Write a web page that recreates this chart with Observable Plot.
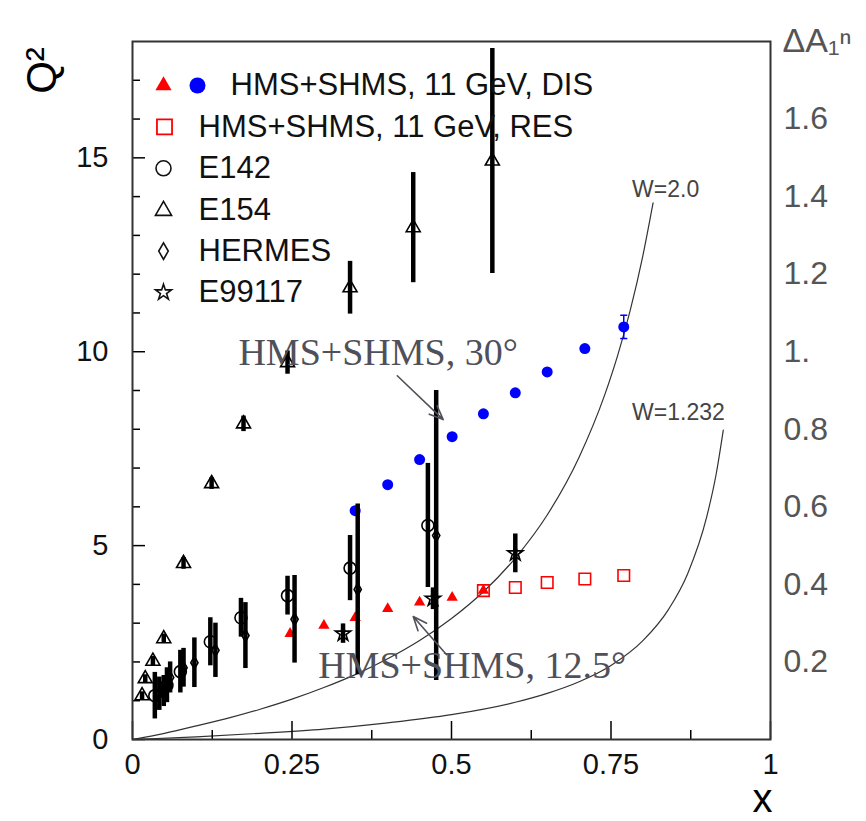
<!DOCTYPE html>
<html>
<head>
<meta charset="utf-8">
<script src="https://cdn.jsdelivr.net/npm/d3@7"></script>
<script src="https://cdn.jsdelivr.net/npm/@observablehq/plot@0.6"></script>
<style>
  html, body { margin: 0; padding: 0; background: #fff; }
</style>
</head>
<body>
<div id="chart"></div>
<script>
// ---- tick labels ----
const xTicks = [0, 0.25, 0.5, 0.75, 1];
const xTickLabels = ["0", "0.25", "0.5", "0.75", "1"];
const xMinorTicks = [0.125, 0.375, 0.625, 0.875];
const yTicks = [0, 5, 10, 15];
const yTickLabels = ["0", "5", "10", "15"];
const yMinorTicks = [1, 2, 3, 4, 6, 7, 8, 9, 11, 12, 13, 14, 16, 17];
const rightTicks = [0.2, 0.4, 0.6, 0.8, 1.0, 1.2, 1.4, 1.6];
const rightTickLabels = ["0.2", "0.4", "0.6", "0.8", "1.", "1.2", "1.4", "1.6"];

// ---- legend ----
const legendLabels = ["HMS+SHMS, 11 GeV, DIS", "HMS+SHMS, 11 GeV, RES", "E142", "E154", "HERMES", "E99117"];

// ---- HMS+SHMS 11 GeV, DIS (blue dots) ----
const disX = [0.349, 0.40, 0.45, 0.501, 0.55, 0.60, 0.65, 0.709, 0.77];
const disQ2 = [5.90, 6.57, 7.22, 7.81, 8.40, 8.94, 9.48, 10.08, 10.64];
const disErr = [0, 0, 0, 0, 0, 0, 0, 0, 0.30];

// ---- HMS+SHMS 11 GeV, DIS/RES (red) ----
const resTriX = [0.247, 0.30, 0.349, 0.40, 0.45, 0.501, 0.55];
const resTriQ2 = [2.73, 2.94, 3.14, 3.37, 3.54, 3.66, 3.84];
const resSqX = [0.55, 0.60, 0.65, 0.709, 0.77];
const resSqQ2 = [3.84, 3.92, 4.05, 4.14, 4.23];

// ---- E142 (open circles) ----
const e142X = [0.035, 0.054, 0.075, 0.122, 0.170, 0.243, 0.341, 0.463];
const e142Q2 = [1.13, 1.40, 1.75, 2.52, 3.14, 3.71, 4.42, 5.52];
const e142Err = [0.60, 0.45, 0.55, 0.62, 0.50, 0.50, 0.84, 1.60];

// ---- E154 (open triangles) ----
const e154X = [0.015, 0.020, 0.032, 0.049, 0.080, 0.124, 0.174, 0.243, 0.341, 0.440, 0.564];
const e154Q2 = [1.13, 1.57, 2.02, 2.60, 4.54, 6.60, 8.14, 9.72, 11.65, 13.20, 14.92];
const e154Err = [0.10, 0.10, 0.12, 0.12, 0.15, 0.15, 0.20, 0.30, 0.68, 1.42, 2.90];

// ---- HERMES (open diamonds) ----
const hermesX = [0.042, 0.049, 0.059, 0.080, 0.097, 0.130, 0.177, 0.254, 0.353, 0.476];
const hermesQ2 = [1.18, 1.25, 1.60, 1.85, 1.98, 2.30, 2.68, 3.10, 3.87, 5.26];
const hermesErr = [0.43, 0.40, 0.40, 0.50, 0.64, 0.70, 0.85, 1.13, 2.20, 3.74];

// ---- E99117 (open stars) ----
const e99117X = [0.330, 0.471, 0.600];
const e99117Q2 = [2.73, 3.63, 4.80];
const e99117Err = [0.25, 0.28, 0.50];

// ---- W = 2.0 curve ----
const w20X = [0, 0.05, 0.10, 0.15, 0.20, 0.25, 0.30, 0.35, 0.40, 0.45, 0.50, 0.55, 0.60, 0.65, 0.70, 0.74, 0.76, 0.78, 0.80, 0.816];
const w20Q2 = [0, 0.16, 0.35, 0.55, 0.78, 1.04, 1.34, 1.68, 2.08, 2.55, 3.12, 3.81, 4.68, 5.79, 7.28, 8.88, 9.88, 11.06, 12.48, 13.84];

// ---- W = 1.232 curve ----
const w1232X = [0, 0.10, 0.20, 0.30, 0.40, 0.50, 0.60, 0.65, 0.70, 0.75, 0.80, 0.84, 0.87, 0.90, 0.915, 0.926];
const w1232Q2 = [0, 0.07, 0.16, 0.27, 0.43, 0.64, 0.96, 1.19, 1.49, 1.91, 2.55, 3.35, 4.27, 5.74, 6.86, 7.98];

// ---- helpers to build tables ----
const table = (xs, ys, es) => xs.map((x, i) => ({x, y: ys[i], e: es ? es[i] : 0, lo: ys[i] - (es ? es[i] : 0), hi: ys[i] + (es ? es[i] : 0)}));

const dis = table(disX, disQ2, disErr);
const disWithErr = dis.filter(d => d.e > 0);
const resTri = table(resTriX, resTriQ2);
const resSq = table(resSqX, resSqQ2);
const e142 = table(e142X, e142Q2, e142Err);
const e154 = table(e154X, e154Q2, e154Err);
const hermes = table(hermesX, hermesQ2, hermesErr);
const e99117 = table(e99117X, e99117Q2, e99117Err);
const w20 = table(w20X, w20Q2);
const w1232 = table(w1232X, w1232Q2);

const capSymbol = {
  draw(context, size) {
    const w = Math.sqrt(size) / 2;
    context.moveTo(-w, 0);
    context.lineTo(w, 0);
  }
};

const barStyle = {x: "x", y1: "lo", y2: "hi", stroke: "#000", strokeWidth: 4.5};
const openStyle = {x: "x", y: "y", fill: "none", stroke: "#000", strokeWidth: 1.6};

const fontSans = "'Liberation Sans', Arial, Helvetica, sans-serif";
const fontSerif = "'Liberation Serif', 'Times New Roman', serif";

// legend marker specs (style only)
const legendMarks = [];
const rowDy = i => 44 + 41.4 * i;
legendLabels.forEach((label, i) => {
  legendMarks.push(Plot.text([label], {
    text: d => d, frameAnchor: "top-left", dx: i === 0 ? 98 : 66, dy: rowDy(i),
    textAnchor: "start", lineAnchor: "middle", fontSize: 31, fill: "#111", fontFamily: fontSans
  }));
});
legendMarks.push(
  Plot.dot([0], {frameAnchor: "top-left", dx: 31, dy: rowDy(0), symbol: "triangle", r: 6, fill: "#ff0000", stroke: "none"}),
  Plot.dot([0], {frameAnchor: "top-left", dx: 65, dy: rowDy(0), symbol: "circle", r: 8, fill: "#0000ff", stroke: "none"}),
  Plot.dot([0], {frameAnchor: "top-left", dx: 32, dy: rowDy(1), symbol: "square", r: 8.5, fill: "none", stroke: "#ff0000", strokeWidth: 1.8}),
  Plot.dot([0], {frameAnchor: "top-left", dx: 31, dy: rowDy(2), symbol: "circle", r: 7.5, fill: "none", stroke: "#111", strokeWidth: 1.6}),
  Plot.dot([0], {frameAnchor: "top-left", dx: 31, dy: rowDy(3) + 1, symbol: "triangle", r: 6, fill: "none", stroke: "#111", strokeWidth: 1.6}),
  Plot.dot([0], {frameAnchor: "top-left", dx: 31, dy: rowDy(4), symbol: "diamond", r: 5, fill: "none", stroke: "#111", strokeWidth: 1.6}),
  Plot.dot([0], {frameAnchor: "top-left", dx: 31, dy: rowDy(5), symbol: "star", r: 5, fill: "none", stroke: "#111", strokeWidth: 1.6})
);

const chart = Plot.plot({
  width: 866,
  height: 821,
  marginLeft: 132,
  marginRight: 96,
  marginTop: 41,
  marginBottom: 82,
  style: {fontFamily: fontSans, background: "#fff", color: "#000", overflow: "visible"},
  x: {domain: [0, 1], label: null},
  y: {domain: [0, 18], label: null},
  marks: [
    // kinematic curves
    Plot.line(w20, {x: "x", y: "y", curve: "monotone-x", stroke: "#333", strokeWidth: 1.2}),
    Plot.line(w1232, {x: "x", y: "y", curve: "monotone-x", stroke: "#333", strokeWidth: 1.2}),
    Plot.text(["W=2.0"], {text: d => d, x: 0.783, y: 14.18, textAnchor: "start", lineAnchor: "middle", fontSize: 23, fill: "#444"}),
    Plot.text(["W=1.232"], {text: d => d, x: 0.783, y: 8.42, textAnchor: "start", lineAnchor: "middle", fontSize: 23, fill: "#444"}),

    // HMS+SHMS projections
    Plot.dot(resTri, {x: "x", y: "y", symbol: "triangle", r: 4.2, fill: "#ff0000", stroke: "none"}),
    Plot.dot(resSq, {x: "x", y: "y", symbol: "square", r: 6.5, fill: "none", stroke: "#ff0000", strokeWidth: 1.6}),
    Plot.dot(dis, {x: "x", y: "y", symbol: "circle", r: 5.5, fill: "#0000ff", stroke: "none"}),
    Plot.ruleX(disWithErr, {x: "x", y1: "lo", y2: "hi", stroke: "#0000ff", strokeWidth: 1.5}),
    Plot.dot(disWithErr, {x: "x", y: "lo", symbol: capSymbol, r: 4, stroke: "#0000ff", strokeWidth: 1.5}),
    Plot.dot(disWithErr, {x: "x", y: "hi", symbol: capSymbol, r: 4, stroke: "#0000ff", strokeWidth: 1.5}),

    // world data error bars
    Plot.ruleX(e154, barStyle),
    Plot.ruleX(e142, barStyle),
    Plot.ruleX(hermes, barStyle),
    Plot.ruleX(e99117, barStyle),

    // world data markers
    Plot.dot(e154, {...openStyle, symbol: "triangle", r: 5.2}),
    Plot.dot(e142, {...openStyle, symbol: "circle", r: 6}),
    Plot.dot(hermes, {...openStyle, symbol: "diamond", r: 3.8}),
    Plot.dot(e99117, {...openStyle, symbol: "star", r: 4.8}),

    // annotations
    Plot.text(["HMS+SHMS, 30°"], {text: d => d, x: 0.166, y: 9.97, textAnchor: "start", lineAnchor: "middle", fontSize: 38, fontFamily: fontSerif, fill: "#50505a"}),
    Plot.text(["HMS+SHMS, 12.5°"], {text: d => d, x: 0.291, y: 1.91, textAnchor: "start", lineAnchor: "middle", fontSize: 38, fontFamily: fontSerif, fill: "#50505a"}),
    Plot.arrow([{x1: 0.415, y1: 9.38, x2: 0.487, y2: 8.25}], {x1: "x1", y1: "y1", x2: "x2", y2: "y2", stroke: "#50505a", strokeWidth: 1.6, headLength: 14, headAngle: 45}),
    Plot.arrow([{x1: 0.492, y1: 2.19, x2: 0.440, y2: 3.17}], {x1: "x1", y1: "y1", x2: "x2", y2: "y2", stroke: "#50505a", strokeWidth: 1.6, headLength: 14, headAngle: 45}),

    // axes: x
    Plot.axisX({ticks: xTicks, tickSize: -18, text: null, label: null, strokeWidth: 1.5}),
    Plot.axisX({ticks: xMinorTicks, tickSize: -9, text: null, label: null, strokeWidth: 1.5}),
    Plot.axisX({ticks: xTicks, tickSize: 0, tickPadding: 14, label: null, fontSize: 29, fill: "#111",
      tickFormat: d => xTickLabels[xTicks.indexOf(d)]}),
    // axes: y left
    Plot.axisY({ticks: yTicks, tickSize: -13, text: null, label: null, strokeWidth: 1.5}),
    Plot.axisY({ticks: yMinorTicks, tickSize: -8, text: null, label: null, strokeWidth: 1.5}),
    Plot.axisY({ticks: yTicks, tickSize: 0, tickPadding: 24, label: null, fontSize: 29, fill: "#111",
      tickFormat: d => yTickLabels[yTicks.indexOf(d)]}),
    // axes: y right (ΔA1^n = Q²/10)
    Plot.axisY({anchor: "right", ticks: rightTicks.map(v => v * 10), tickSize: 0, tickPadding: 13, label: null, fontSize: 32, fill: "#555",
      tickFormat: d => rightTickLabels[rightTicks.findIndex(v => Math.abs(v * 10 - d) < 1e-6)]}),

    // axis titles
    Plot.text(["Q²"], {text: d => d, frameAnchor: "top-left", dx: -90, dy: 29, rotate: -90, textAnchor: "middle", lineAnchor: "middle", fontSize: 42, fill: "#000"}),
    Plot.text(["x"], {text: d => d, frameAnchor: "bottom-right", dx: -8, dy: 60, textAnchor: "middle", lineAnchor: "middle", fontSize: 40, fill: "#000"}),
    Plot.text(["ΔA₁ⁿ"], {text: d => d, frameAnchor: "top-right", dx: 12, dy: 0, textAnchor: "start", lineAnchor: "middle", fontSize: 34, fill: "#555"}),

    ...legendMarks,

    Plot.frame({stroke: "#333", strokeWidth: 2})
  ]
});

document.getElementById("chart").appendChild(chart);
</script>
</body>
</html>
